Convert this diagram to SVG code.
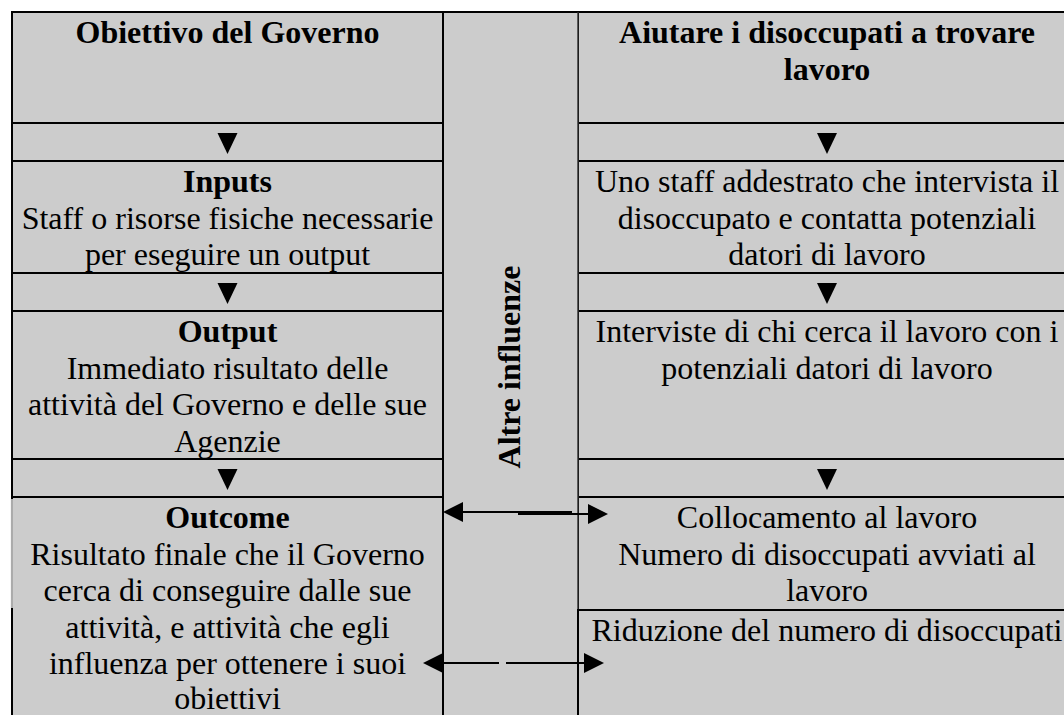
<svg xmlns="http://www.w3.org/2000/svg" width="1064" height="715" viewBox="0 0 1064 715">
<style>
.box{fill:#cccccc;stroke:#000;stroke-width:2}
.t{font-family:"Liberation Serif","Times New Roman",serif;font-size:32px;fill:#000;text-anchor:middle}
.b{font-weight:bold}
.ln{stroke:#000;stroke-width:2;fill:none}
.ah{fill:#000;stroke:none}
</style>
<rect width="1064" height="715" fill="#fff"/>

<g id="obiettivo-governo">
<rect class="box" x="12" y="12" width="431" height="111"/>
<text class="t b" x="227.5" y="43">Obiettivo del Governo</text>
</g>
<g id="sep-left-1"><rect class="box" x="12" y="123" width="431" height="38"/></g>
<g id="inputs">
<rect class="box" x="12" y="161" width="431" height="112"/>
<text class="t b" x="227.5" y="192">Inputs</text>
<text class="t" x="227.5" y="229">Staff o risorse fisiche necessarie</text>
<text class="t" x="227.5" y="265">per eseguire un output</text>
</g>
<g id="sep-left-2"><rect class="box" x="12" y="273" width="431" height="38"/></g>
<g id="output">
<rect class="box" x="12" y="311" width="431" height="148"/>
<text class="t b" x="227.5" y="342">Output</text>
<text class="t" x="227.5" y="379">Immediato risultato delle</text>
<text class="t" x="227.5" y="415">attività del Governo e delle sue</text>
<text class="t" x="227.5" y="452">Agenzie</text>
</g>
<g id="sep-left-3"><rect class="box" x="12" y="459" width="431" height="38"/></g>
<g id="outcome">
<rect class="box" x="12" y="497" width="431" height="230"/>
<line x1="12" y1="499" x2="12" y2="608" stroke="#cccccc" stroke-width="2.4"/>
<line x1="12" y1="499" x2="12" y2="608" stroke="#8a8a8a" stroke-width="1"/>
<text class="t b" x="227.5" y="528">Outcome</text>
<text class="t" x="227.5" y="565">Risultato finale che il Governo</text>
<text class="t" x="227.5" y="601">cerca di conseguire dalle sue</text>
<text class="t" x="227.5" y="638">attività, e attività che egli</text>
<text class="t" x="227.5" y="674">influenza per ottenere i suoi</text>
<text class="t" x="227.5" y="709">obiettivi</text>
</g>

<g id="aiutare-disoccupati">
<rect class="box" x="578" y="12" width="498" height="111"/>
<text class="t b" x="827" y="43">Aiutare i disoccupati a trovare</text>
<text class="t b" x="827" y="80">lavoro</text>
</g>
<g id="sep-right-1"><rect class="box" x="578" y="123" width="498" height="38"/></g>
<g id="staff-addestrato">
<rect class="box" x="578" y="161" width="498" height="112"/>
<text class="t" x="827" y="192">Uno staff addestrato che intervista il</text>
<text class="t" x="827" y="229">disoccupato e contatta potenziali</text>
<text class="t" x="827" y="265">datori di lavoro</text>
</g>
<g id="sep-right-2"><rect class="box" x="578" y="273" width="498" height="38"/></g>
<g id="interviste">
<rect class="box" x="578" y="311" width="498" height="148"/>
<text class="t" x="827" y="342">Interviste di chi cerca il lavoro con i</text>
<text class="t" x="827" y="379">potenziali datori di lavoro</text>
</g>
<g id="sep-right-3"><rect class="box" x="578" y="459" width="498" height="38"/></g>
<g id="collocamento">
<rect class="box" x="578" y="497" width="498" height="113"/>
<text class="t" x="827" y="528">Collocamento al lavoro</text>
<text class="t" x="827" y="565">Numero di disoccupati avviati al</text>
<text class="t" x="827" y="601">lavoro</text>
</g>
<g id="riduzione">
<rect class="box" x="578" y="610" width="498" height="120"/>
<text class="t" x="827" y="641">Riduzione del numero di disoccupati</text>
</g>

<g id="altre-influenze">
<rect x="443" y="12" width="135" height="712" fill="#cccccc"/>
<line x1="442" y1="12" x2="579" y2="12" stroke="#000" stroke-width="2"/>
<line x1="443" y1="11" x2="443" y2="715" stroke="#000" stroke-width="2"/>
<line x1="578" y1="12" x2="578" y2="610" stroke="#2a2a2a" stroke-width="1.4"/>
<line x1="578" y1="609" x2="578" y2="715" stroke="#000" stroke-width="2"/>
<text class="t b" transform="translate(520,367) rotate(-90)">Altre influenze</text>
</g>

<g id="connectors">
<polygon class="ah" points="217.5,133 237.5,133 227.5,154"/>
<polygon class="ah" points="217.5,283 237.5,283 227.5,304"/>
<polygon class="ah" points="217.5,469 237.5,469 227.5,490"/>
<polygon class="ah" points="817,133 837,133 827,154"/>
<polygon class="ah" points="817,283 837,283 827,304"/>
<polygon class="ah" points="817,469 837,469 827,490"/>

<polygon class="ah" points="443,512 463,502 463,522"/>
<line class="ln" x1="463" y1="512" x2="572" y2="512"/>
<line class="ln" x1="518" y1="514" x2="590" y2="514"/>
<polygon class="ah" points="608,514 588,504 588,524"/>

<polygon class="ah" points="423,663 443,653 443,673"/>
<line class="ln" x1="443" y1="663" x2="499" y2="663"/>
<line class="ln" x1="506" y1="663" x2="585" y2="663"/>
<polygon class="ah" points="604,663 584,653 584,673"/>
</g>
</svg>
